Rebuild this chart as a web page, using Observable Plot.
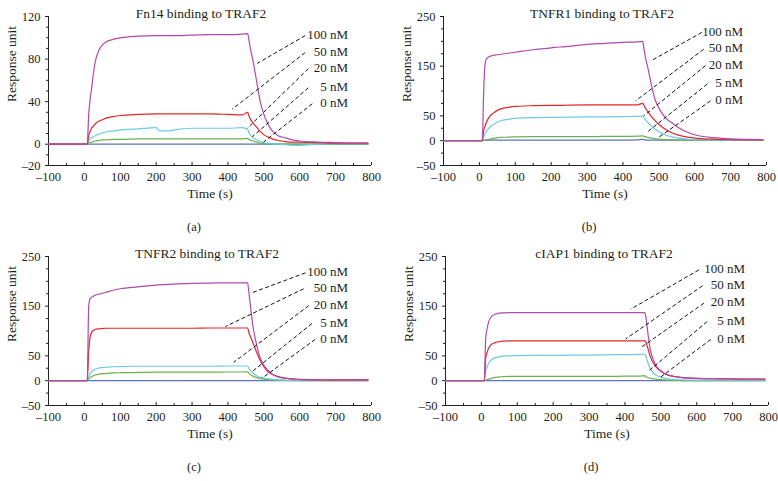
<!DOCTYPE html>
<html><head><meta charset="utf-8">
<script src="https://cdn.jsdelivr.net/npm/d3@7"></script>
<script src="https://cdn.jsdelivr.net/npm/@observablehq/plot@0.6"></script>
<style>
html,body{margin:0;padding:0;background:#fff;}
#chart{position:relative;width:778px;height:481px;overflow:hidden;background:#fff;}
#chart svg{position:absolute;}
</style></head><body><div id="chart"></div>
<script>
// ---- shared data ----
const T = [-100,0,8,12,16,20,25,30,40,50,60,80,100,150,200,210,235,250,300,350,400,440,455,458,462,470,480,490,500,510,520,540,560,580,600,650,700,750,790];
const concLabels = ["100 nM","50 nM","20 nM","5 nM","0 nM"];
const xTicks = [-100,0,100,200,300,400,500,600,700,800];
const xMinorTicks = [-50,50,150,250,350,450,550,650,750];

// ---- (a) Fn14 ----
const fn14_100 = [0,0,0,28,42,52,66,77,88,93,96,98.5,100,101.5,102,102,102,102,102.5,103,103,103.5,104,99,91,78,59,40,28,20,14,8,6,4,3,2,1.5,1,1];
const fn14_50  = [0,0,0,8,12,15,17,19,21.5,23,24.5,26,27,28,28.5,28.5,28.5,28.5,28.5,28.5,28,27.5,30,27,24,20,16,12,9,7,5.5,3.5,2.5,2,2,1.5,1,1,1];
const fn14_20  = [0,0,0,3,5,6,7,8,9.5,10.5,11.5,12.5,13.5,14.5,15.5,12.5,12.5,13.5,15,15,15,15.5,14,11,9,6,4,2.5,1.5,1,0.5,0,-0.5,-1,-1,0,0.5,0.5,0.5];
const fn14_5   = [0,0,0,1,1.5,2,2.5,3,3.5,4,4,4.5,4.5,5,5,5,5,5,5,5,5,5,5.5,4.5,4,3,2,1,0.5,0.3,0,0,0,0,0,0,0,0,0];
const fn14_0   = [0,0,0,0,0,0,0,0,0,0,0,0,0,0,0,0,0,0,0,0,0,0,0,0,0,0,0,0,0,0,0,0,0,0,0,0,0,0,0];
const fn14Leaders = [[615,102,482,76],[615,86,412,33],[624,71,454,15],[624,53,468,7],[635,38,499,2]];
const fn14YTicks = [-20,0,40,80,120];
const fn14YMinor = [-10,10,20,30,50,60,70,90,100,110];

// ---- (b) TNFR1 ----
const tnfr1_100 = [0,0,0,100,155,165,168,170,172,173,174,176,178,183,187,188,189,190,194,196,198,199,200,188,170,145,110,82,66,54,45,34,24,17,12,6,3.5,2.5,2];
const tnfr1_50  = [0,0,0,20,30,38,45,50,56,61,64,67,69,70.5,71,71,71,71.5,72,72,72,72,75,72,66,58,48,40,33,27,22,15,10,7,5,3,2,1.5,1.5];
const tnfr1_20  = [0,0,0,8,14,19,24,28,33,37,40,43,45,46.5,47,47,47,47.5,48,48,48.5,49,49.5,47,43,36,29,23,18,14,11,7,4.5,3,2,1.5,1,1,1];
const tnfr1_5   = [0,0,0,0.5,1,1.5,2,3,4.5,6,6.5,7,7.5,8,8,8,8,8,8,8.5,8.5,9,9.5,9,8,6.5,5,4,3,2.5,2,1.5,1,1,1,1,1,1,1];
const tnfr1_0   = [0,0,0.5,1,1,1,1,1,1,1,1,1,1,1,1,1,1,1,1,1,1,1.5,3,2,1.5,1,1,1,1,1,1,1,1,1,1,1,1,1,1];
const tnfr1Leaders = [[620,218,481,162],[625,184,435,80],[630,151,458,50],[635,114,467,17],[644,80,500,7]];

// ---- (c) TNFR2 ----
const tnfr2_100 = [0,0,0,150,165,168,170,172,174,176,178,182,185,189,192.5,193,194,194.5,196,196.5,197,197,197,180,155,108,72,45,31,22,15,7.5,4.5,3,2,1.5,1,1,1];
const tnfr2_50  = [0,0,0,60,88,97,101,103,104.5,105,105.5,105.5,105.5,105.5,105.5,105.5,105.5,105.5,105.5,106,106,106,106,98,90,76,57,40,28,19,14,8,5,3.5,2.5,1.5,1.5,1.5,2];
const tnfr2_20  = [0,0,0,8,14,18,21,23,25.5,26.5,27,28,28.5,29,29,29,29,29,29,29,29.5,29.5,29.5,25,21,15,10,7,5,4,3,1.5,1,0.5,0.5,0.5,0.5,0.5,0.5];
const tnfr2_5   = [0,0,0,3,6,8,10,11.5,13,14,14.5,15.5,16,16.5,17,17,17,17,17,17,17.5,17.5,18,15,12.5,9,6,4,3,2,1.5,1,0.5,0,0,0,0,0,0];
const tnfr2_0   = [0,0,0,0,0,0,0,0,0,0,0,0,0,0,0,0,0,0,0,0,0,0,0,0,0,0,0,0,0,0,0,0,0,0,0,0,0,0,0];
const tnfr2Leaders = [[616,217,467,177],[611,185,393,109],[625,151,416,37],[634,115,467,18],[643,83,495,5]];

// ---- (d) cIAP1 ----
const ciap1_100 = [0,0,0,85,105,118,126,130,134,136,136.5,137,137,137,137,137,137,137,137,137,137,137,137,130,107,65,40,27,20,15,12,8,6,5,4.5,4,3.5,3,3];
const ciap1_50  = [0,0,0,45,57,65,71,74,77,78.5,79.5,80,80,80,80,80,80,80,80,80,80,80,80,78,70,50,34,25,19,14,11,8,6,5,4.5,4,3.5,3,3];
const ciap1_20  = [0,0,0,20,28,35,40,43,46.5,48.5,49.5,50,50.5,51,51,51,51,51.5,51.5,52,52.5,53,53.5,50,40,25,15,10,7,5,3.5,2,1.5,1,1,1,1,1,1];
const ciap1_5   = [0,0,0,1,2,3,4,5,6.5,7.5,8,8.5,8.5,8.5,8.5,8.5,8.5,8.5,8.5,8.5,9,9,10,8,7,5,3.5,2.5,2,1.5,1,0.5,0,0,0,0,0,0,0];
const ciap1_0   = [0,0,0,0,0,0,0,0,0,0,0,0,0,0,0,0,0,0,0,0,0,0,0,0,0,0,0,0,0,0,0,0,0,0,0,0,0,0,0];
const ciap1Leaders = [[606,223,416,144],[616,191,402,84],[620,156,443,66],[629,119,467,20],[639,83,499,7]];

const wideYTicks = [-50,0,50,150,250];
const wideYMinor = [-25,25,75,100,125,175,200,225];

// ---- styles ----
const seriesColors = ["#b04aa8","#e3262a","#6ccbe0","#6cb24c","#5b73bb"];
const FONT = "'Liberation Serif', 'Times New Roman', serif";

const panels = [
  {left:0,   top:0,   title:"Fn14 binding to TRAF2",  caption:"(a)", yDomain:[-20,120], yTicks:fn14YTicks, yMinor:fn14YMinor,
   series:[fn14_100,fn14_50,fn14_20,fn14_5,fn14_0], leaders:fn14Leaders, titleDx:-9},
  {left:395, top:0,   title:"TNFR1 binding to TRAF2", caption:"(b)", yDomain:[-50,250], yTicks:wideYTicks, yMinor:wideYMinor,
   series:[tnfr1_100,tnfr1_50,tnfr1_20,tnfr1_5,tnfr1_0], leaders:tnfr1Leaders, titleDx:-3},
  {left:0,   top:240, title:"TNFR2 binding to TRAF2", caption:"(c)", yDomain:[-50,250], yTicks:wideYTicks, yMinor:wideYMinor,
   series:[tnfr2_100,tnfr2_50,tnfr2_20,tnfr2_5,tnfr2_0], leaders:tnfr2Leaders, titleDx:-3},
  {left:397, top:240, title:"cIAP1 binding to TRAF2", caption:"(d)", yDomain:[-50,250], yTicks:wideYTicks, yMinor:wideYMinor,
   series:[ciap1_100,ciap1_50,ciap1_20,ciap1_5,ciap1_0], leaders:ciap1Leaders, titleDx:-3}
];

const labelRightT = 735;
const fmt = d => d < 0 ? "\u2013" + Math.abs(d) : String(d);

const root = document.getElementById("chart");
for (const p of panels) {
  const rows = [];
  for (let i = p.series.length - 1; i >= 0; i--) {
    p.series[i].forEach((v, j) => rows.push({t: T[j], v, c: concLabels[i]}));
  }
  const leaders = p.leaders.map((d, i) => ({t1: d[0], v1: d[1], t2: d[2], v2: d[3], label: concLabels[i]}));
  const svg = Plot.plot({
    width: 383, height: 240,
    marginLeft: 48, marginRight: 12, marginTop: 16, marginBottom: 75,
    style: {fontFamily: FONT, fontSize: "12.5px", color: "#231f20", background: "transparent", overflow: "visible"},
    x: {domain: [-100, 800], label: null},
    y: {domain: p.yDomain, label: null},
    color: {domain: concLabels, range: seriesColors},
    marks: [
      Plot.axisX(xTicks, {tickSize: 0, tickPadding: 7, tickFormat: fmt, label: null, fontSize: 12.5}),
      Plot.axisX(xTicks, {tickSize: -3, tickFormat: () => "", label: null}),
      Plot.axisX(xMinorTicks, {tickSize: -2, tickFormat: () => "", label: null}),
      Plot.axisY(p.yTicks, {tickSize: 3, tickPadding: 5, tickFormat: fmt, label: null, fontSize: 12.5}),
      Plot.axisY(p.yMinor, {tickSize: 2, tickFormat: () => "", label: null}),
      Plot.ruleX([-100], {stroke: "#231f20", strokeWidth: 1}),
      Plot.ruleY([p.yDomain[0]], {stroke: "#231f20", strokeWidth: 1}),
      Plot.line(rows, {x: "t", y: "v", z: "c", stroke: "c", strokeWidth: 1.2, curve: "monotone-x"}),
      Plot.link(leaders, {x1: "t1", y1: "v1", x2: "t2", y2: "v2", stroke: "#111", strokeWidth: 1, strokeDasharray: "4,2.5"}),
      Plot.text(leaders, {x: () => labelRightT, y: "v1", text: "label", textAnchor: "end", dy: -1, fontSize: 13, fill: "#231f20"}),
      Plot.text([p.title], {frameAnchor: "top", dy: -8, dx: p.titleDx, fontSize: 13.5, fill: "#231f20"}),
      Plot.text(["Time (s)"], {frameAnchor: "bottom", dy: 32, fontSize: 13.5, fill: "#231f20"}),
      Plot.text(["Response unit"], {frameAnchor: "left", rotate: -90, dx: -37, dy: 11, fontSize: 13.5, fill: "#231f20"}),
      Plot.text([p.caption], {frameAnchor: "bottom", dy: 65, dx: -16, fontSize: 12.5, fill: "#231f20"})
    ]
  });
  svg.style.left = p.left + "px";
  svg.style.top = p.top + "px";
  root.appendChild(svg);
}
</script></body></html>
